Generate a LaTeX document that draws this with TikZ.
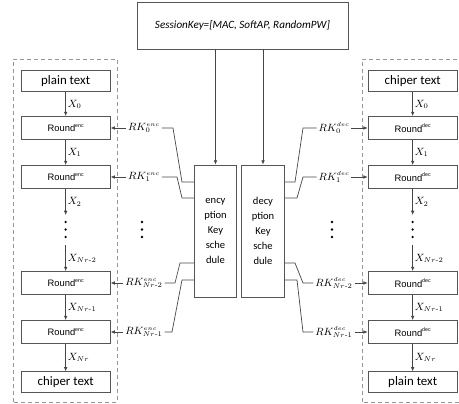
\documentclass[tikz,border=0pt]{standalone}
\usepackage{amsmath}
\usepackage{fontspec}
\usepackage{tikz}
\usetikzlibrary{arrows.meta}
\newfontfamily\calfont{Carlito}
\newfontfamily\arifont{Liberation Sans}
\definecolor{boxgray}{RGB}{85, 85, 85}
\definecolor{linegray}{RGB}{70, 70, 70}
\definecolor{dashgray}{RGB}{150, 150, 150}
\newcommand{\roundtxt}[1]{Round\raisebox{0.9ex}{\fontsize{4.5}{5}\selectfont #1}}

\begin{document}
\begin{tikzpicture}[
    txtbox/.style={draw=boxgray, line width=0.7pt, minimum width=2.67cm, minimum height=0.63cm, inner sep=0pt,
                   font=\calfont\fontsize{11}{12}\selectfont},
    rndbox/.style={txtbox, minimum height=0.69cm, font=\arifont\fontsize{8}{9}\selectfont},
    keybox/.style={draw=boxgray, line width=0.7pt, minimum width=1.28cm, minimum height=3.96cm, inner sep=0pt,
                   align=center, font=\calfont\fontsize{9}{12.8}\selectfont},
    conn/.style={draw=linegray, line width=0.6pt},
    arr/.style={conn, -{Latex[length=1.3mm, width=1.1mm]}},
    lbl/.style={inner sep=1.5pt, font=\fontsize{9}{10}\selectfont},
    grpframe/.style={draw=dashgray, dashed, dash pattern=on 1.2mm off 0.9mm, line width=0.7pt}]
            \useasboundingbox (0.00, 0.00) rectangle (13.77, 12.09);
            % dashed groups
            \draw[grpframe] ( 0.39, 0.03) rectangle ( 3.51, 10.32);
            \draw[grpframe] (10.86, 0.03) rectangle (14.20, 10.32);
            % session key and key schedules
            \node[draw=boxgray, line width=0.7pt, minimum width=6.33cm, minimum height=1.41cm, inner sep=0pt,
                  font=\calfont\itshape\fontsize{9.5}{10}\selectfont] (skey) at ( 7.275, 11.325) {SessionKey=[MAC, SoftAP, RandomPW]};
            \node[keybox] (enc) at ( 6.465, 5.16) {ency\\ption\\Key\\sche\\dule};
            \node[keybox] (dec) at ( 7.890, 5.16) {decy\\ption\\Key\\sche\\dule};
            \draw[arr] (skey.south -| enc.north) -- (enc.north);
            \draw[arr] (skey.south -| dec.north) -- (dec.north);
            % encryption column
            \node[txtbox] (pt1) at ( 1.97, 9.66) {plain text};
            \node[rndbox] (e0)  at ( 1.97, 8.25) {\roundtxt{enc}};
            \node[rndbox] (e1)  at ( 1.97, 6.78) {\roundtxt{enc}};
            \node[rndbox] (e2)  at ( 1.97, 3.60) {\roundtxt{enc}};
            \node[rndbox] (e3)  at ( 1.97, 2.13) {\roundtxt{enc}};
            \node[txtbox] (ct1) at ( 1.97, 0.62) {chiper text};
            \coordinate (e1end) at ( 1.97, 5.64);
            \coordinate (e2beg) at ( 1.97, 4.74);
            \draw[arr] (pt1) -- node[lbl, right] {$X_0$} (e0);
            \draw[arr] (e0)  -- node[lbl, right] {$X_1$} (e1);
            \draw[arr] (e1)  -- node[lbl, right] {$X_2$} (e1end);
            \draw[arr] (e2beg) -- node[lbl, right] {$X_{Nr\text{-}2}$} (e2);
            \draw[arr] (e2)  -- node[lbl, right] {$X_{Nr\text{-}1}$} (e3);
            \draw[arr] (e3)  -- node[lbl, right] {$X_{Nr}$} (ct1);
            % decryption column
            \node[txtbox] (ct2) at (12.38, 9.66) {chiper text};
            \node[rndbox] (d0)  at (12.38, 8.25) {\roundtxt{dec}};
            \node[rndbox] (d1)  at (12.38, 6.78) {\roundtxt{dec}};
            \node[rndbox] (d2)  at (12.38, 3.60) {\roundtxt{dec}};
            \node[rndbox] (d3)  at (12.38, 2.13) {\roundtxt{dec}};
            \node[txtbox] (pt2) at (12.38, 0.62) {plain text};
            \coordinate (d1end) at (12.38, 5.64);
            \coordinate (d2beg) at (12.38, 4.74);
            \draw[arr] (ct2) -- node[lbl, right] {$X_0$} (d0);
            \draw[arr] (d0)  -- node[lbl, right] {$X_1$} (d1);
            \draw[arr] (d1)  -- node[lbl, right] {$X_2$} (d1end);
            \draw[arr] (d2beg) -- node[lbl, right] {$X_{Nr\text{-}2}$} (d2);
            \draw[arr] (d2)  -- node[lbl, right] {$X_{Nr\text{-}1}$} (d3);
            \draw[arr] (d3)  -- node[lbl, right] {$X_{Nr}$} (pt2);
            % round keys
            \node[lbl] (rke0) at ( 4.32, 8.25) {$RK^{\scriptscriptstyle enc}_{0}$};
            \node[lbl] (rke1) at ( 4.32, 6.78) {$RK^{\scriptscriptstyle enc}_{1}$};
            \node[lbl] (rke2) at ( 4.32, 3.60) {$RK^{\scriptscriptstyle enc}_{Nr\text{-}2}$};
            \node[lbl] (rke3) at ( 4.32, 2.13) {$RK^{\scriptscriptstyle enc}_{Nr\text{-}1}$};
            \node[lbl] (rkd0) at (10.02, 8.25) {$RK^{\scriptscriptstyle dec}_{0}$};
            \node[lbl] (rkd1) at (10.02, 6.78) {$RK^{\scriptscriptstyle dec}_{1}$};
            \node[lbl] (rkd2) at (10.02, 3.60) {$RK^{\scriptscriptstyle dec}_{Nr\text{-}2}$};
            \node[lbl] (rkd3) at (10.02, 2.13) {$RK^{\scriptscriptstyle dec}_{Nr\text{-}1}$};
            \draw[arr] (rke0) -- (e0);
            \draw[arr] (rke1) -- (e1);
            \draw[arr] (rke2) -- (e2);
            \draw[arr] (rke3) -- (e3);
            \draw[arr] (rkd0) -- (d0);
            \draw[arr] (rkd1) -- (d1);
            \draw[arr] (rkd2) -- (d2);
            \draw[arr] (rkd3) -- (d3);
            % key schedule outputs
            \draw[conn] (rke0.east) -- ( 5.19, 8.25) -- ( 5.46, 6.63) -- (enc.west |- 0, 6.63);
            \draw[conn] (rke1.east) -- ( 5.31, 6.78) -- ( 5.46, 6.15) -- (enc.west |- 0, 6.15);
            \draw[conn] (rke2.east) -- ( 5.25, 3.60) -- ( 5.40, 4.20) -- (enc.west |- 0, 4.20);
            \draw[conn] (rke3.east) -- ( 5.16, 2.13) -- ( 5.46, 3.69) -- (enc.west |- 0, 3.69);
            \draw[conn] (rkd0.west) -- ( 9.09, 8.25) -- ( 8.85, 6.63) -- (dec.east |- 0, 6.63);
            \draw[conn] (rkd1.west) -- ( 9.09, 6.78) -- ( 8.91, 6.15) -- (dec.east |- 0, 6.15);
            \draw[conn] (rkd2.west) -- ( 9.09, 3.60) -- ( 8.85, 4.20) -- (dec.east |- 0, 4.20);
            \draw[conn] (rkd3.west) -- ( 9.09, 2.13) -- ( 8.91, 3.69) -- (dec.east |- 0, 3.69);
            % vertical dots
            \foreach \x in {1.97, 4.26, 9.96, 12.38}
                \foreach \y in {5.43, 5.205, 4.98}
                    \fill[black] (\x, \y) circle (1.1pt);
            \end{tikzpicture}
\end{document}
